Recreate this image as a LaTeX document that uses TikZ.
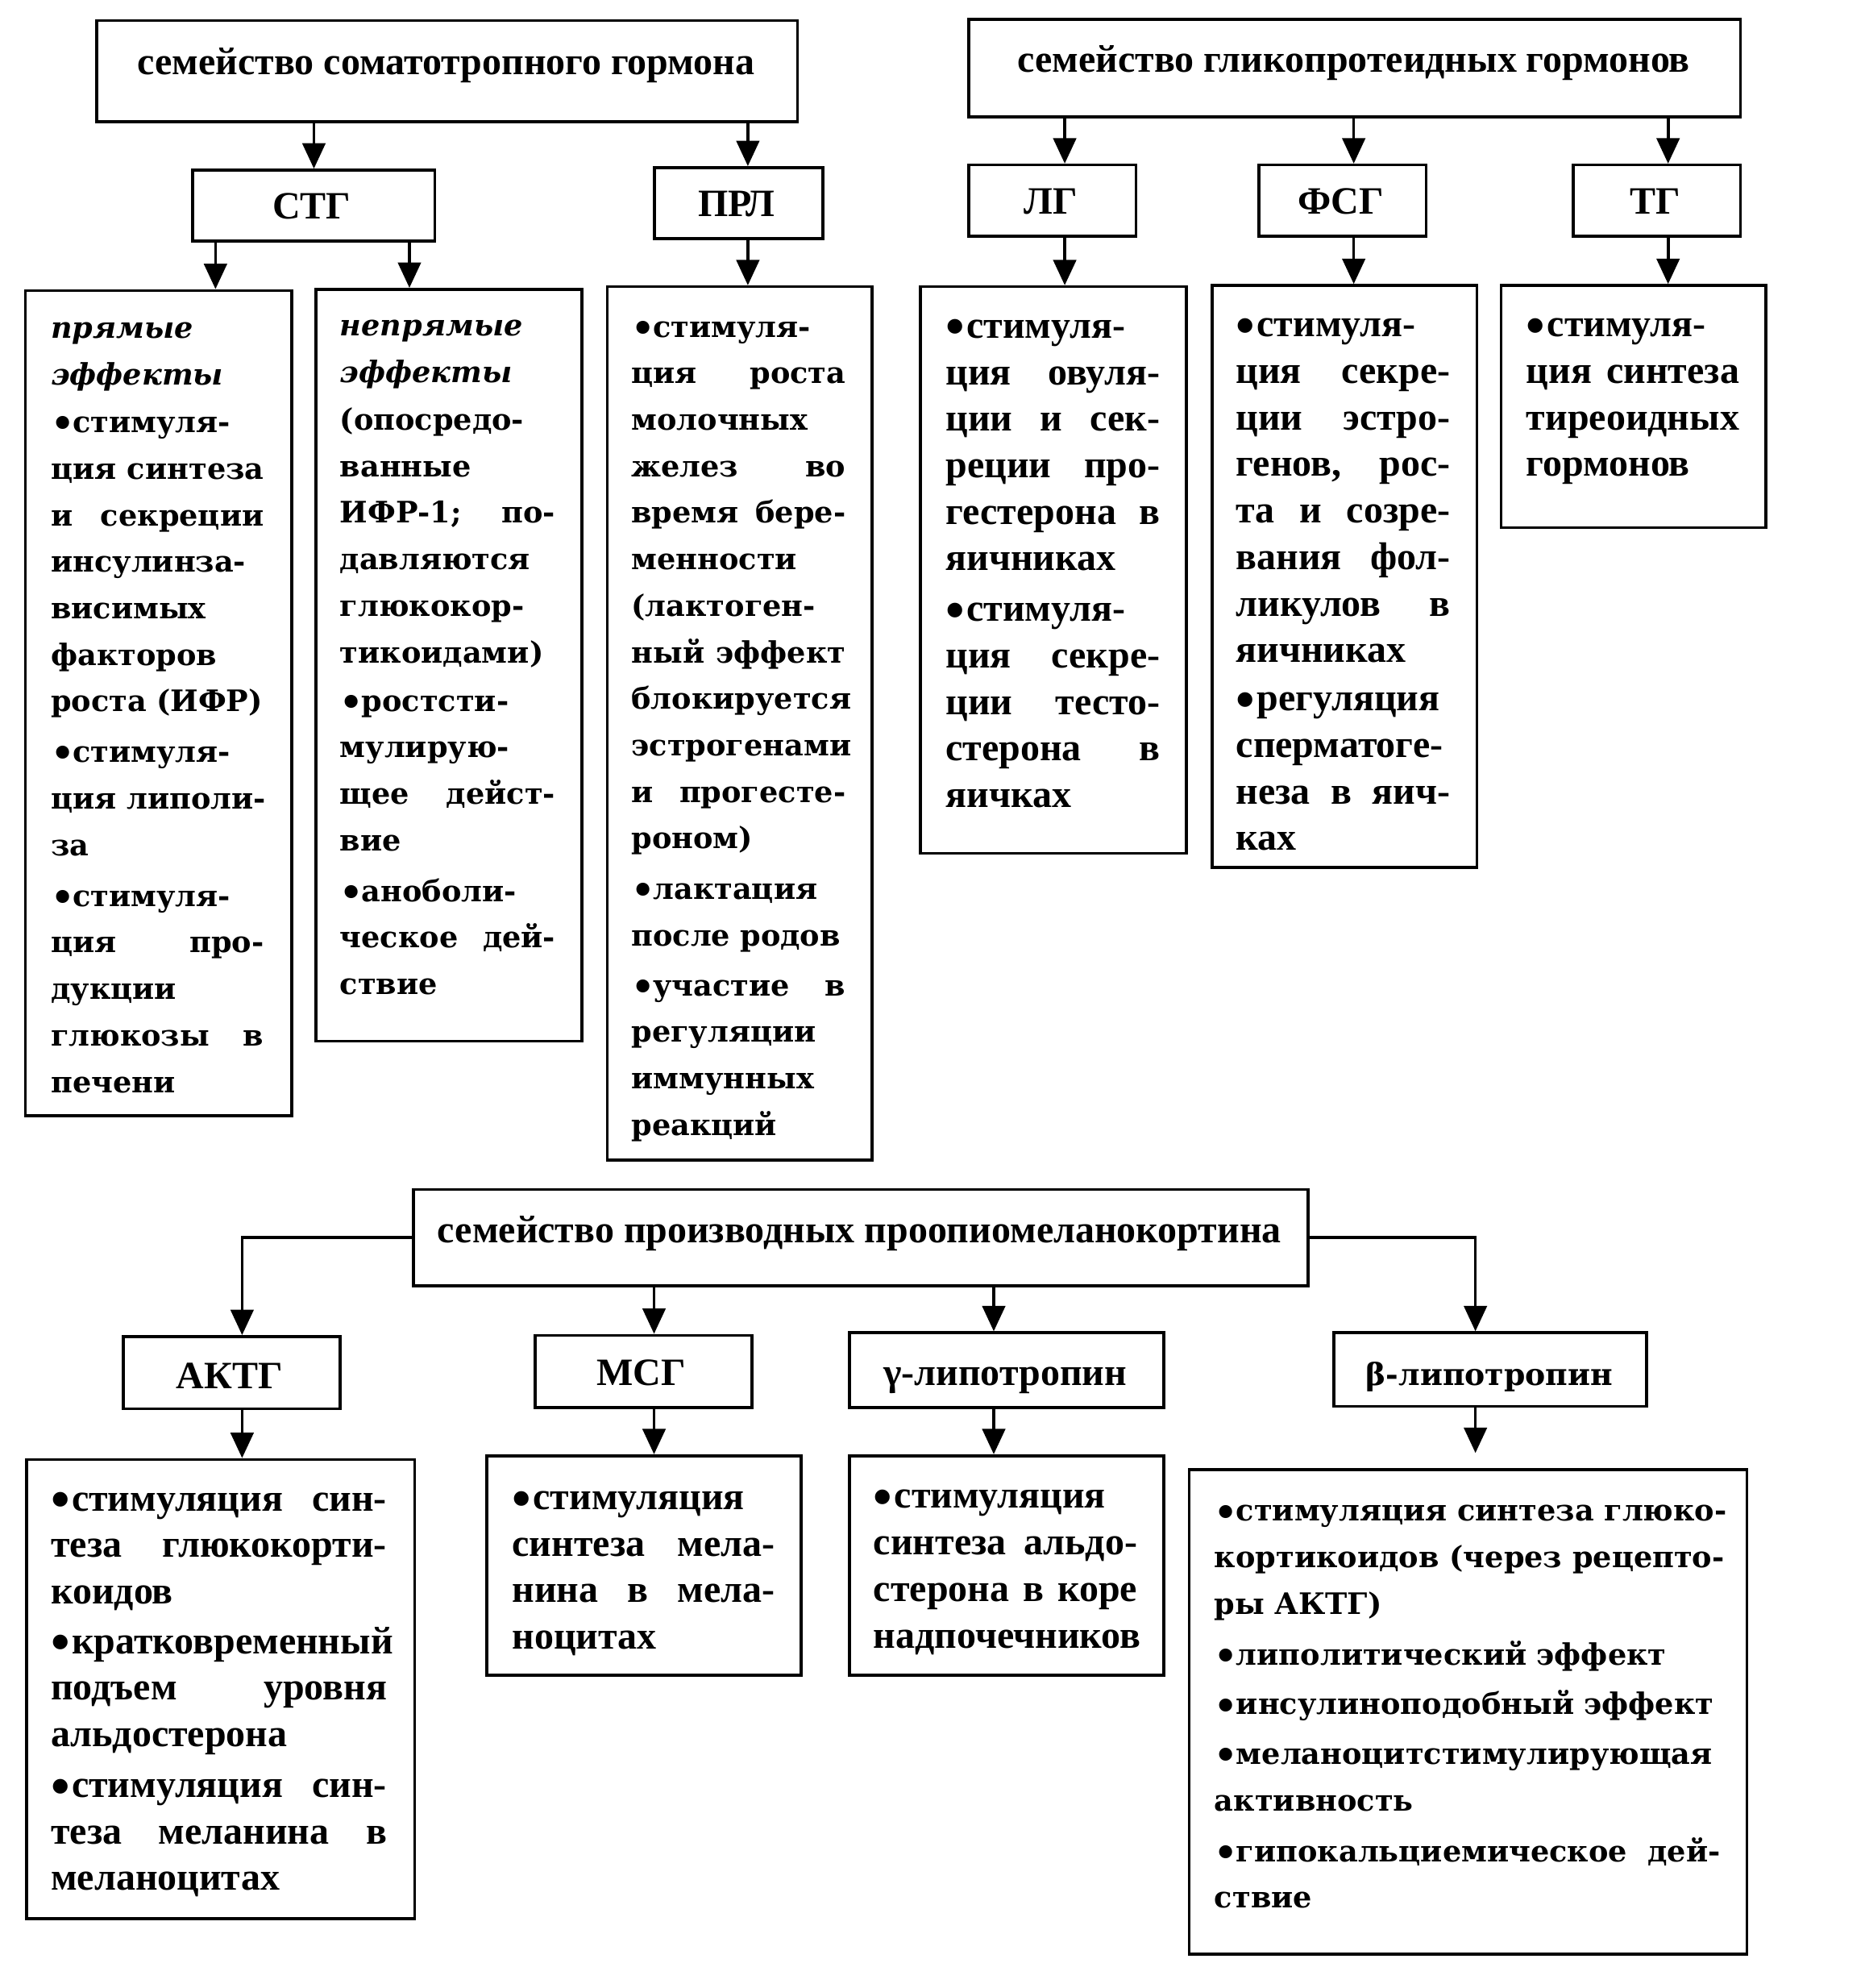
\documentclass[tikz,border=0pt]{standalone}
\usepackage{fontspec}
\usepackage{graphicx}
\setmainfont{Liberation Serif}
\newfontfamily\widefont{DejaVu Serif}
\usetikzlibrary{arrows.meta}
\newcommand\J[1]{{\spaceskip=\fontdimen2\font plus 1fil\relax\makebox[\hsize][s]{#1}}}
\newcommand\FL{\rule{0pt}{26pt}}
\newcommand\B{\raisebox{-0.18em}{\scalebox{1.4}{•}}\kern1.5pt}
\newcommand\W{\raisebox{-0.14em}{\scalebox{1.25}{•}}\kern-1.5pt}
\begin{document}
\begin{tikzpicture}[x=1pt,y=-1pt,
  lbox/.style={draw, line width=2.3pt, inner sep=0pt, anchor=north west},
  cbox/.style={draw, line width=2.3pt, inner sep=0pt, anchor=north west},
  ltext/.style={anchor=base, inner sep=0pt, font=\bfseries\fontsize{30.5}{36}\selectfont},
  ttext/.style={anchor=north west, inner sep=0pt, align=left, font=\bfseries\fontsize{30.5}{36.7}\selectfont},
  wtext/.style={anchor=north west, inner sep=0pt, align=left, font=\widefont\bfseries\fontsize{23.3}{36.7}\selectfont},
  arr/.style={line width=2.3pt, -{Triangle[length=20pt,width=18pt]}},
]
\fill[white] (0,0) rectangle (1471,1568);
\useasboundingbox (0,0) rectangle (1471,1568);

% column coordinates for connectors
\coordinate (x170) at (170,0);
\coordinate (x323) at (323,0);
\coordinate (x590) at (590,0);
\coordinate (x840) at (840,0);
\coordinate (x1068) at (1068,0);
\coordinate (x1316) at (1316,0);
\coordinate (x191) at (191,0);
\coordinate (x516) at (516,0);
\coordinate (x784) at (784,0);
\coordinate (x1164) at (1164,0);

% top families
\node[lbox, minimum width=553pt, minimum height=80pt] (fam1) at (75,15) {};
\node[ltext] (fam1t) at (352,59) {семейство соматотропного гормона};
\node[lbox, minimum width=609pt, minimum height=77pt] (fam2) at (763,14) {};
\node[ltext] (fam2t) at (1068,57) {семейство гликопротеидных гормонов};

\node[lbox, minimum width=191pt, minimum height=56pt] (stg) at (151,133) {};
\node[ltext] (stgt) at (246,172.5) {СТГ};
\node[lbox, minimum width=133pt, minimum height=56pt] (prl) at (515,131) {};
\node[ltext] (prlt) at (581,170.5) {ПРЛ};
\node[lbox, minimum width=132pt, minimum height=56pt] (lg) at (763,129) {};
\node[ltext] (lgt) at (829,168.5) {ЛГ};
\node[lbox, minimum width=132pt, minimum height=56pt] (fsg) at (992,129) {};
\node[ltext] (fsgt) at (1058,168.5) {ФСГ};
\node[lbox, minimum width=132pt, minimum height=56pt] (tg) at (1240,129) {};
\node[ltext] (tgt) at (1306,168.5) {ТГ};

% content boxes (top)
\node[cbox, minimum width=210pt, minimum height=651pt] (b1) at (19,228) {};
\node[cbox, minimum width=210pt, minimum height=593pt] (b2) at (248,227) {};
\node[cbox, minimum width=209pt, minimum height=689pt] (bprl) at (478,225) {};
\node[cbox, minimum width=210pt, minimum height=447pt] (blg) at (725,225) {};
\node[cbox, minimum width=209pt, minimum height=459pt] (bfsg) at (955,224) {};
\node[cbox, minimum width=209pt, minimum height=191pt] (btg) at (1183,224) {};

\node[wtext, text width=168pt] (t1) at (40,240.6) {\FL{\itshape прямые}\\
{\itshape эффекты}\\[1pt]
\W стимуля-\\
\J{ция синтеза}\\
\J{и секреции}\\
инсулинза-\\
висимых\\
факторов\\
роста (ИФР)\\[3.3pt]
\W стимуля-\\
\J{ция липоли-}\\
за\\[3.3pt]
\W стимуля-\\
\J{ция про-}\\
дукции\\
\J{глюкозы в}\\
печени};

\node[wtext, text width=170pt] (t2) at (268,238.6) {\FL{\itshape непрямые}\\
{\itshape эффекты}\\[1pt]
(опосредо-\\
ванные\\
\J{ИФР-1; по-}\\
давляются\\
глюкокор-\\
тикоидами)\\[1.5pt]
\W ростсти-\\
мулирую-\\
\J{щее дейст-}\\
вие\\[3.3pt]
\W аноболи-\\
\J{ческое дей-}\\
ствие};

\node[wtext, text width=169pt] (tprl) at (498,239.6) {\FL\W стимуля-\\
\J{ция роста}\\
молочных\\
\J{желез во}\\
\J{время бере-}\\
менности\\
(лактоген-\\
\J{ный эффект}\\
блокируется\\
эстрогенами\\
\J{и прогесте-}\\
роном)\\[3.3pt]
\W лактация\\
после родов\\[2.5pt]
\J{\W участие в}\\
регуляции\\
иммунных\\
реакций};

\node[ttext, text width=169pt] (tlg) at (746,240.4) {\FL\B стимуля-\\
\J{ция овуля-}\\
\J{ции и сек-}\\
\J{реции про-}\\
\J{гестерона в}\\
яичниках\\[3.3pt]
\B стимуля-\\
\J{ция секре-}\\
\J{ции тесто-}\\
\J{стерона в}\\
яичках};

\node[ttext, text width=169pt] (tfsg) at (975,239.4) {\FL\B стимуля-\\
\J{ция секре-}\\
\J{ции эстро-}\\
\J{генов, рос-}\\
\J{та и созре-}\\
\J{вания фол-}\\
\J{ликулов в}\\
яичниках\\[1.5pt]
\B регуляция\\
сперматоге-\\
\J{неза в яич-}\\
ках};

\node[ttext, text width=168pt] (ttg) at (1204,239.4) {\FL\B стимуля-\\
\J{ция синтеза}\\
тиреоидных\\
гормонов};

% connectors top
\draw[arr] (fam1.south -| stg.north) -- (stg.north);
\draw[arr] (fam1.south -| x590) -- (prl.north -| x590);
\draw[arr] (stg.south -| x170) -- (b1.north -| x170);
\draw[arr] (stg.south -| x323) -- (b2.north -| x323);
\draw[arr] (prl.south -| x590) -- (bprl.north -| x590);
\draw[arr] (fam2.south -| x840) -- (lg.north -| x840);
\draw[arr] (fam2.south -| x1068) -- (fsg.north -| x1068);
\draw[arr] (fam2.south -| x1316) -- (tg.north -| x1316);
\draw[arr] (lg.south -| x840) -- (blg.north -| x840);
\draw[arr] (fsg.south -| x1068) -- (bfsg.north -| x1068);
\draw[arr] (tg.south -| x1316) -- (btg.north -| x1316);

% bottom family
\node[lbox, minimum width=706pt, minimum height=76pt] (fam3) at (325,937) {};
\node[ltext] (fam3t) at (678,980) {семейство производных проопиомеланокортина};
\node[lbox, minimum width=171pt, minimum height=57pt] (aktg) at (96,1053) {};
\node[ltext] (aktgt) at (181,1095) {АКТГ};
\node[lbox, minimum width=171pt, minimum height=57pt] (msg) at (421,1052) {};
\node[ltext] (msgt) at (506,1093) {МСГ};
\node[lbox, minimum width=248pt, minimum height=59pt] (glip) at (669,1050) {};
\node[ltext] (glipt) at (793,1093) {γ-липотропин};
\node[lbox, minimum width=247pt, minimum height=58pt] (blip) at (1051,1050) {};
\node[ltext, font=\widefont\bfseries\fontsize{24}{30}\selectfont] (blipt) at (1175,1093) {β-липотропин};

\node[cbox, minimum width=306pt, minimum height=362pt] (baktg) at (20,1150) {};
\node[cbox, minimum width=248pt, minimum height=173pt] (bmsg) at (383,1147) {};
\node[cbox, minimum width=248pt, minimum height=173pt] (bglip) at (669,1147) {};
\node[cbox, minimum width=440pt, minimum height=382pt] (bblip) at (937,1158) {};
\coordinate (bend) at (1164,1146);

\node[ttext, text width=265pt] (taktg) at (40,1165.4) {\FL\J{\B стимуляция син-}\\
\J{теза глюкокорти-}\\
коидов\\[2.5pt]
\B кратковременный\\
\J{подъем уровня}\\
альдостерона\\[3.3pt]
\J{\B стимуляция син-}\\
\J{теза меланина в}\\
меланоцитах};

\node[ttext, text width=207pt] (tmsg) at (404,1164.4) {\FL\B стимуляция\\
\J{синтеза мела-}\\
\J{нина в мела-}\\
ноцитах};

\node[ttext, text width=208pt] (tglip) at (689,1163.4) {\FL\B стимуляция\\
\J{синтеза альдо-}\\
\J{стерона в коре}\\
надпочечников};

\node[wtext, text width=399pt] (tblip) at (958,1173.6) {\FL\J{\W стимуляция синтеза глюко-}\\
\J{кортикоидов (через рецепто-}\\
ры АКТГ)\\[3.3pt]
\W липолитический эффект\\[2.5pt]
\W инсулиноподобный~эффект\\[2.5pt]
\W меланоцитстимулирующая\\
активность\\[3.3pt]
\J{\W гипокальциемическое дей-}\\
ствие};

% connectors bottom
\draw[arr] (fam3.west) -| (aktg.north -| x191);
\draw[arr] (fam3.east) -| (blip.north -| x1164);
\draw[arr] (fam3.south -| x516) -- (msg.north -| x516);
\draw[arr] (fam3.south -| x784) -- (glip.north -| x784);
\draw[arr] (aktg.south -| x191) -- (baktg.north -| x191);
\draw[arr] (msg.south -| x516) -- (bmsg.north -| x516);
\draw[arr] (glip.south -| x784) -- (bglip.north -| x784);
\draw[arr] (blip.south -| x1164) -- (bend);
\end{tikzpicture}
\end{document}
